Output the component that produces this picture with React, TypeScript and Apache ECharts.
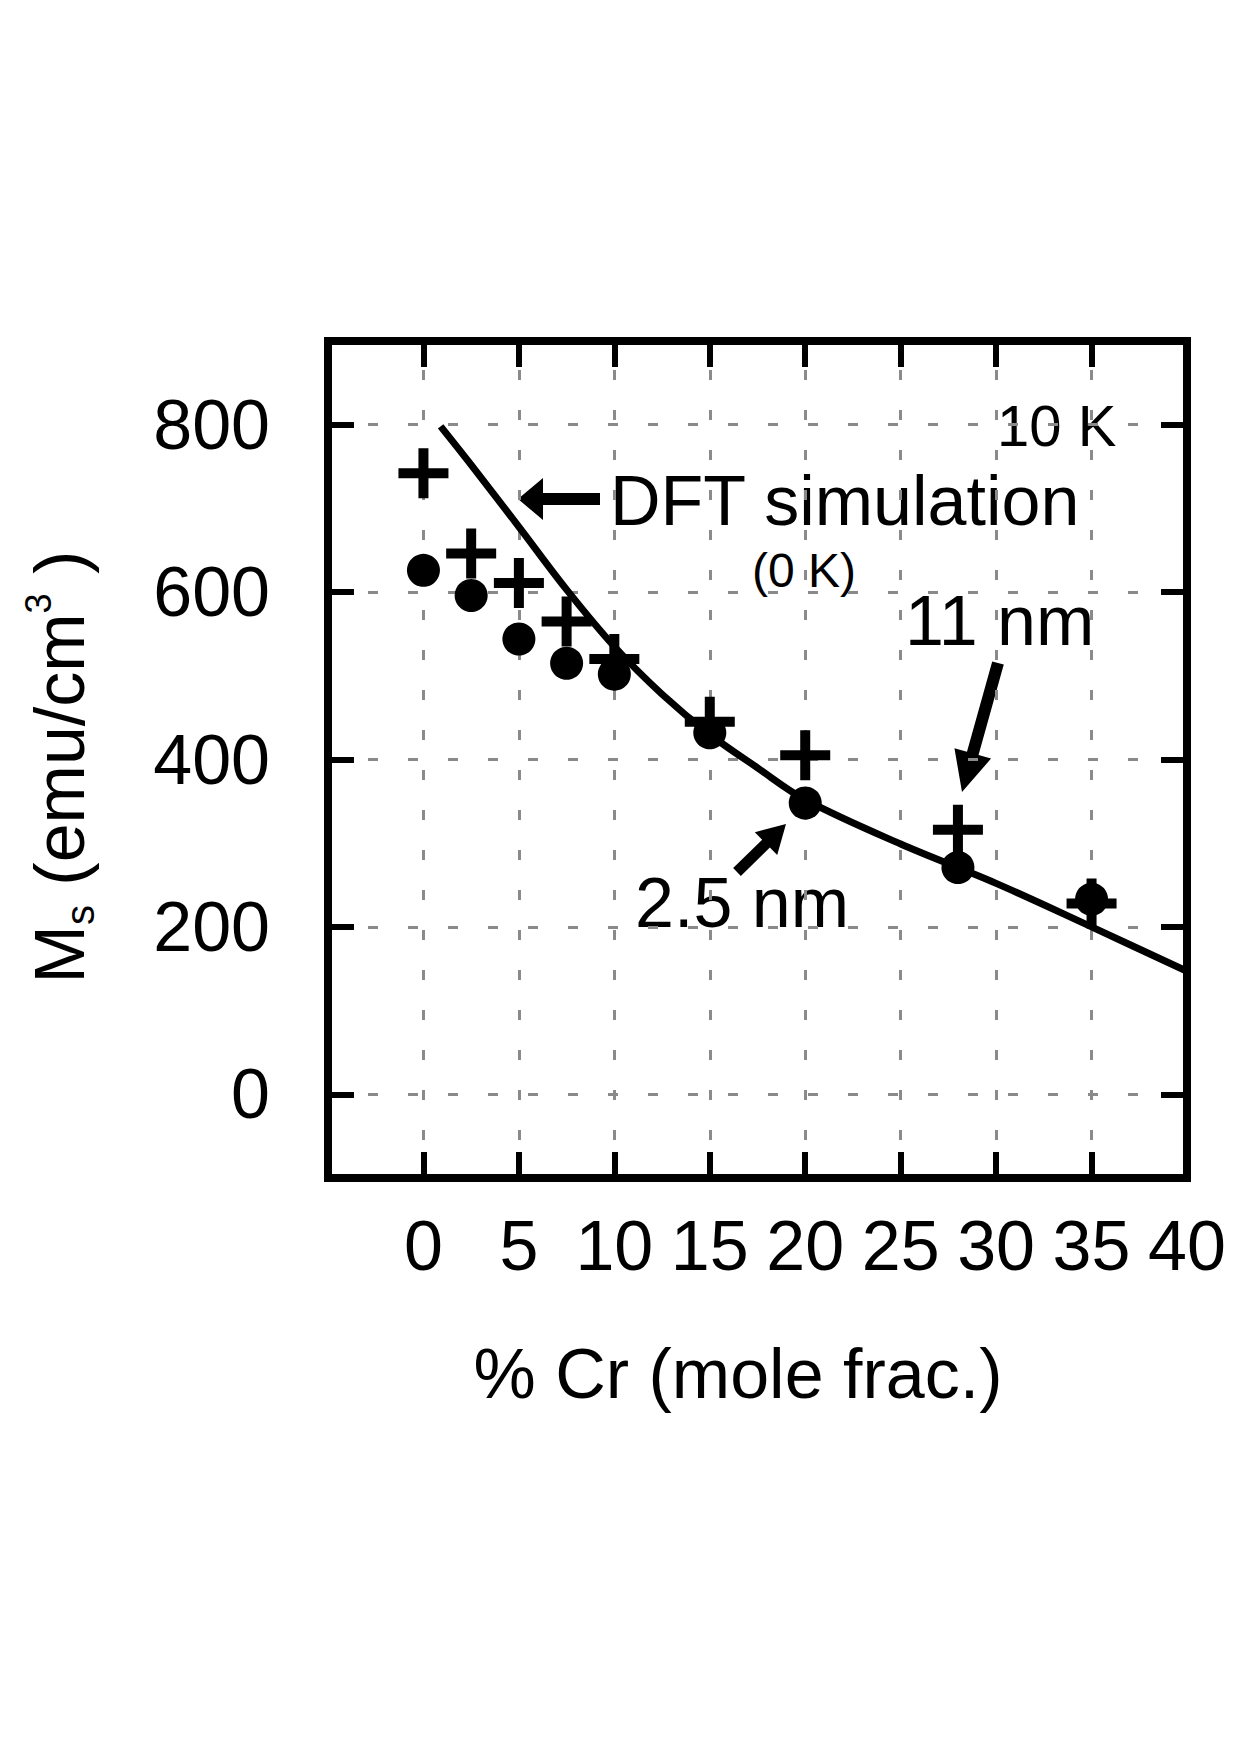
import React, { useEffect, useRef } from "react";
import * as echarts from "echarts";

// ---- data ----
const crPercent = [0, 2.5, 5, 7.5, 10, 15, 20, 28, 35];
const ms2p5nm = [626, 596, 544, 515, 502, 432, 348, 271, 233];
const ms11nm = [742, 646, 611, 565, 520, 445, 405, 316, 228];
const dftCr = [0.9, 2.5, 5, 7.5, 10, 12.5, 15, 17.5, 20, 25, 30, 35, 40];
const dftMs = [798, 752, 678, 603, 535, 478, 430, 390, 352, 299, 252, 200, 147];
const xTickLabels = ["0", "5", "10", "15", "20", "25", "30", "35", "40"];
const yTickLabels = ["0", "200", "400", "600", "800"];

const FONT = '"Liberation Sans", Arial, Helvetica, sans-serif';
const PLUS = "path://M4 0H6V4H10V6H6V10H4V6H0V4H4Z";

function arrowPts(tail: number[], tip: number[], shaftW: number, headL: number, headW: number) {
  const dx = tip[0] - tail[0];
  const dy = tip[1] - tail[1];
  const L = Math.hypot(dx, dy);
  const ux = dx / L, uy = dy / L;
  const px = -uy, py = ux;
  const bx = tip[0] - ux * headL, by = tip[1] - uy * headL;
  return [
    [tail[0] + (px * shaftW) / 2, tail[1] + (py * shaftW) / 2],
    [bx + (px * shaftW) / 2, by + (py * shaftW) / 2],
    [bx + (px * headW) / 2, by + (py * headW) / 2],
    [tip[0], tip[1]],
    [bx - (px * headW) / 2, by - (py * headW) / 2],
    [bx - (px * shaftW) / 2, by - (py * shaftW) / 2],
    [tail[0] - (px * shaftW) / 2, tail[1] - (py * shaftW) / 2],
  ];
}

export default function App() {
  const ref = useRef<HTMLDivElement>(null);
  useEffect(() => {
    if (!ref.current) return;
    const chart = echarts.init(ref.current, null, { renderer: "svg" });
    const gridColor = "#8a8a8a";
    const frameLine = { show: true, onZero: false, lineStyle: { color: "#000", width: 8, cap: "square" } };
    const tickStyle = { show: true, inside: true, length: 26, lineStyle: { color: "#000", width: 6 } };
    const baseX = {
      type: "value",
      min: -5,
      max: 40,
      interval: 5,
    };
    const baseY = {
      type: "value",
      min: -100,
      max: 900,
      splitNumber: 5,
    };
    const option: any = {
      animation: false,
      backgroundColor: "#fff",
      grid: {
        left: 328,
        top: 341,
        width: 859,
        height: 837,
        show: true,
        borderColor: "#000",
        borderWidth: 8,
        backgroundColor: "transparent",
      },
      xAxis: [
        {
          ...baseX,
          position: "bottom",
          axisLine: frameLine,
          axisTick: tickStyle,
          axisLabel: {
            show: true,
            margin: 33,
            fontSize: 70,
            fontFamily: FONT,
            color: "#000",
            formatter: (v: number) => (xTickLabels.indexOf(String(v)) >= 0 ? String(v) : ""),
          },
          splitLine: {
            show: true,
            lineStyle: { color: gridColor, width: 3, type: [10, 30], dashOffset: 11 },
          },
        },
        {
          ...baseX,
          position: "top",
          axisLine: frameLine,
          axisTick: tickStyle,
          axisLabel: { show: false },
          splitLine: { show: false },
        },
      ],
      yAxis: [
        {
          ...baseY,
          position: "left",
          axisLine: frameLine,
          axisTick: tickStyle,
          axisLabel: {
            show: true,
            margin: 58,
            fontSize: 70,
            fontFamily: FONT,
            color: "#000",
            formatter: (v: number) => (yTickLabels.indexOf(String(v)) >= 0 ? String(v) : ""),
          },
          splitLine: {
            show: true,
            lineStyle: { color: gridColor, width: 3, type: [10, 30], dashOffset: 0 },
          },
        },
        {
          ...baseY,
          position: "right",
          axisLine: frameLine,
          axisTick: tickStyle,
          axisLabel: { show: false },
          splitLine: { show: false },
        },
      ],
      series: [
        {
          name: "DFT simulation (0 K)",
          type: "line",
          xAxisIndex: 0,
          yAxisIndex: 0,
          data: dftCr.map((x, i) => [x, dftMs[i]]),
          showSymbol: false,
          smooth: 0.35,
          lineStyle: { color: "#000", width: 7 },
          z: 3,
        },
        {
          name: "2.5 nm",
          type: "scatter",
          xAxisIndex: 0,
          yAxisIndex: 0,
          data: crPercent.map((x, i) => [x, ms2p5nm[i]]),
          symbol: "circle",
          symbolSize: 33,
          itemStyle: { color: "#000", opacity: 1 },
          z: 4,
        },
        {
          name: "11 nm",
          type: "scatter",
          xAxisIndex: 0,
          yAxisIndex: 0,
          data: crPercent.map((x, i) => [x, ms11nm[i]]),
          symbol: PLUS,
          symbolSize: 50,
          itemStyle: { color: "#000", opacity: 1 },
          z: 5,
        },
      ],
      graphic: [
        {
          type: "text",
          x: 60,
          y: 767,
          rotation: Math.PI / 2,
          style: {
            text: "{m|M}{sub|s}{m| (emu/cm}{sup|3}{m| )}",
            align: "center",
            verticalAlign: "middle",
            fill: "#000",
            rich: {
              m: { fontSize: 70, fontFamily: FONT, lineHeight: 80, fill: "#000" },
              sub: { fontSize: 40, fontFamily: FONT, lineHeight: 56, verticalAlign: "bottom", fill: "#000" },
              sup: { fontSize: 36, fontFamily: FONT, lineHeight: 40, verticalAlign: "top", fill: "#000" },
            },
          },
        },
        {
          type: "text",
          x: 738,
          y: 1374,
          style: {
            text: "% Cr (mole frac.)",
            fontSize: 70,
            fontFamily: FONT,
            fill: "#000",
            align: "center",
            verticalAlign: "middle",
          },
        },
        {
          type: "text",
          x: 997,
          y: 425,
          style: { text: "10 K", fontSize: 58, fontFamily: FONT, fill: "#000", align: "left", verticalAlign: "middle" },
        },
        {
          type: "text",
          x: 610,
          y: 501,
          style: { text: "DFT simulation", fontSize: 70, fontFamily: FONT, fill: "#000", align: "left", verticalAlign: "middle" },
        },
        {
          type: "text",
          x: 752,
          y: 570,
          style: { text: "(0 K)", fontSize: 48, fontFamily: FONT, fill: "#000", align: "left", verticalAlign: "middle" },
        },
        {
          type: "text",
          x: 905,
          y: 621,
          style: { text: "11 nm", fontSize: 70, fontFamily: FONT, fill: "#000", align: "left", verticalAlign: "middle" },
        },
        {
          type: "text",
          x: 635,
          y: 903,
          style: { text: "2.5 nm", fontSize: 70, fontFamily: FONT, fill: "#000", align: "left", verticalAlign: "middle" },
        },
        {
          type: "polygon",
          shape: { points: arrowPts([600, 499], [518, 499], 12, 25, 42) },
          style: { fill: "#000" },
        },
        {
          type: "polygon",
          shape: { points: arrowPts([998, 663], [962, 792], 12, 40, 38) },
          style: { fill: "#000" },
        },
        {
          type: "polygon",
          shape: { points: arrowPts([737, 872], [786, 824], 11, 28, 32) },
          style: { fill: "#000" },
        },
      ],
    };
    chart.setOption(option);
    return () => chart.dispose();
  }, []);
  return (
    <div
      ref={ref}
      style={{ position: "absolute", left: 0, top: 0, width: 1240, height: 1754, background: "#fff" }}
    />
  );
}
